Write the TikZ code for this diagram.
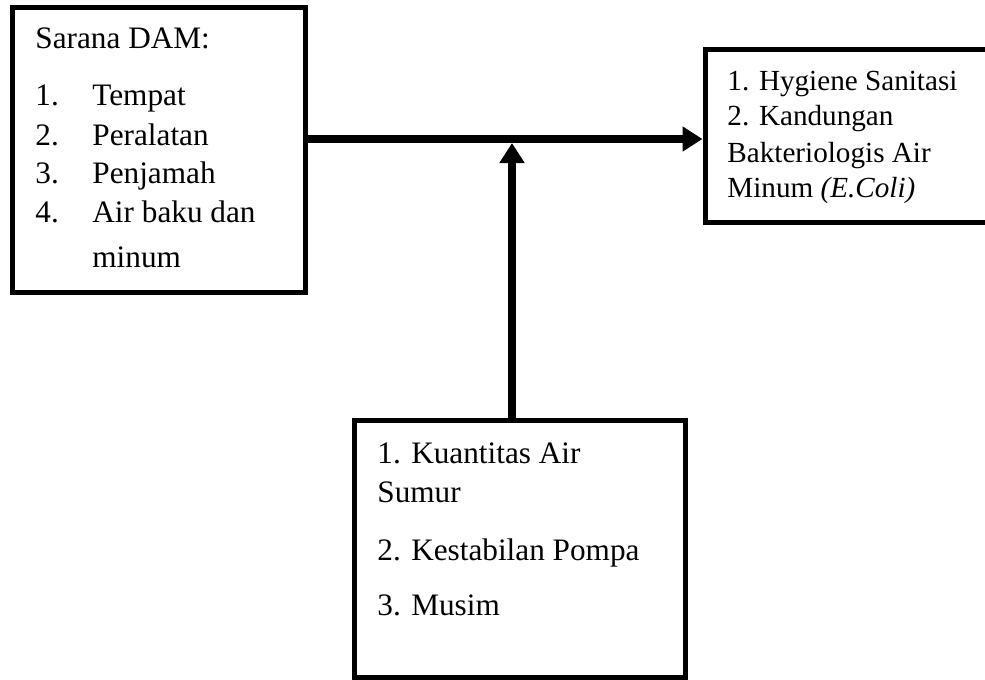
\documentclass[tikz,border=0pt]{standalone}
\usepackage{fontspec}
\setmainfont{Liberation Serif}
\usetikzlibrary{arrows.meta}
\tikzset{
  boxnode/.style={draw, line width=2.4pt, rectangle, inner sep=0pt, outer sep=0pt},
  txt/.style={anchor=base west, inner sep=0pt, font=\fontsize{15pt}{18pt}\selectfont},
  txtr/.style={txt, font=\fontsize{14pt}{17pt}\selectfont},
  conn/.style={line width=3.9pt, -{Triangle[length=9.6pt,width=11.5pt]}}
}
\begin{document}
\begin{tikzpicture}[x=0.48pt, y=-0.48pt]
\useasboundingbox (0,0) rectangle (985,679);
\begin{scope}
\clip (0,0) rectangle (985,679);
% boxes
\node[boxnode, minimum width=140.64pt, minimum height=137.04pt] (lbox) at (159,149.75) {};
\node[boxnode, minimum width=141.6pt, minimum height=83.04pt] (rbox) at (852.5,136) {};
\node[boxnode, minimum width=158.88pt, minimum height=123.12pt] (bbox) at (520,548.75) {};
\end{scope}
% left box text
\node[txt] (l0) at (35,48) {Sarana DAM:};
\node[txt] (l1n) at (35,105) {1.};
\node[txt] (l1) at (92,105) {Tempat};
\node[txt] (l2n) at (35,145) {2.};
\node[txt] (l2) at (92,145) {Peralatan};
\node[txt] (l3n) at (35,183) {3.};
\node[txt] (l3) at (92,183) {Penjamah};
\node[txt] (l4n) at (35,222) {4.};
\node[txt] (l4) at (92,222) {Air baku dan};
\node[txt] (l5) at (92,267) {minum};
% right box text
\node[txtr] (r1) at (727,90) {1. Hygiene Sanitasi};
\node[txtr] (r2) at (727,125) {2. Kandungan};
\node[txtr] (r3) at (727,162) {Bakteriologis Air};
\node[txtr] (r4) at (727,197) {Minum \textit{(E.Coli)}};
% bottom box text
\node[txt] (b1) at (377,463) {1. Kuantitas Air};
\node[txt] (b2) at (377,502) {Sumur};
\node[txt] (b3) at (377,560) {2. Kestabilan Pompa};
\node[txt] (b4) at (377,615) {3. Musim};
% connectors
\coordinate (hy) at (512,139);
\coordinate (jb) at (512,143);
\draw[conn] (lbox.east |- hy) -- ([xshift=-1.2pt]rbox.west |- hy);
\draw[conn] (jb |- bbox.north) -- (jb);
\end{tikzpicture}
\end{document}
